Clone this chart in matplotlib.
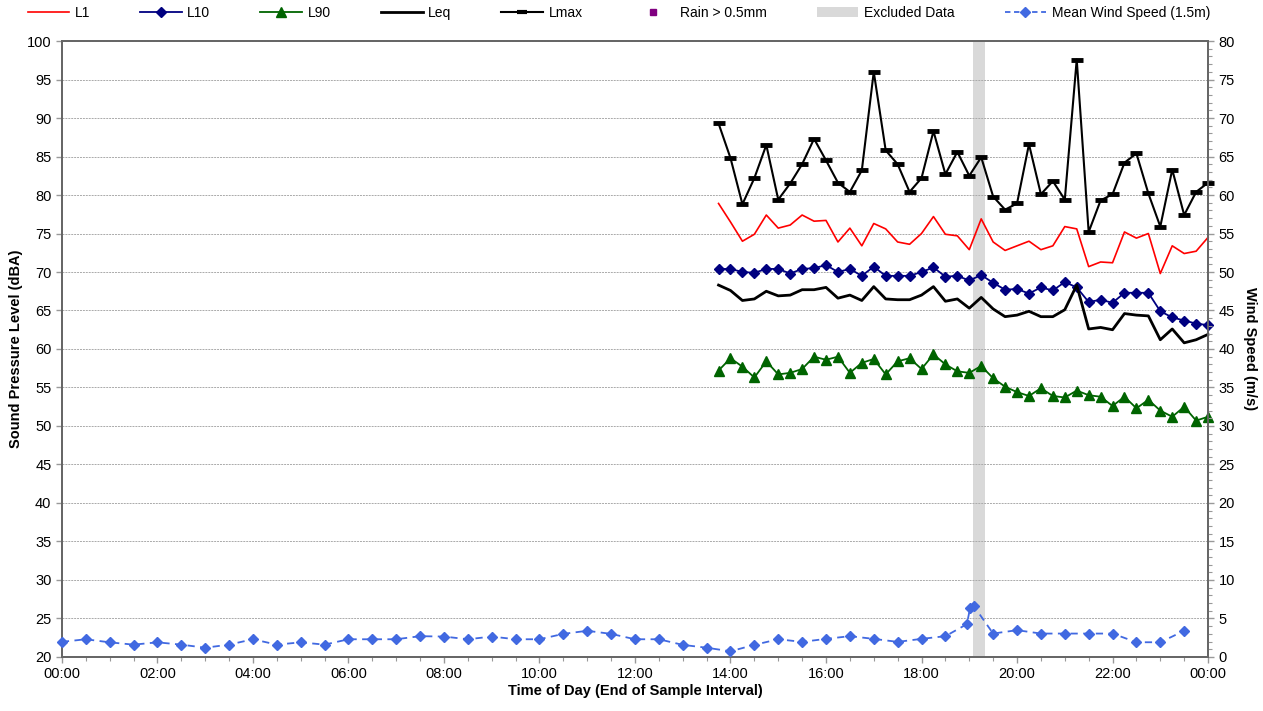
import matplotlib
matplotlib.use('Agg')
import matplotlib.pyplot as plt
from matplotlib.lines import Line2D
from matplotlib.patches import Patch

plt.rcParams['font.family'] = ['Liberation Sans', 'DejaVu Sans']

# Noise monitoring results, 15 minute intervals (time = end of interval)
sound_times = ['13:45', '14:00', '14:15', '14:30', '14:45', '15:00', '15:15', '15:30',
               '15:45', '16:00', '16:15', '16:30', '16:45', '17:00', '17:15', '17:30',
               '17:45', '18:00', '18:15', '18:30', '18:45', '19:00', '19:15', '19:30',
               '19:45', '20:00', '20:15', '20:30', '20:45', '21:00', '21:15', '21:30',
               '21:45', '22:00', '22:15', '22:30', '22:45', '23:00', '23:15', '23:30',
               '23:45', '24:00']
lmax = [89.3, 84.8, 78.8, 82.2, 86.5, 79.4, 81.5, 84.0, 87.3, 84.5, 81.6, 80.4,
        83.2, 96.0, 85.8, 84.0, 80.4, 82.2, 88.3, 82.7, 85.6, 82.5, 84.9, 79.8,
        78.1, 78.9, 86.6, 80.1, 81.8, 79.4, 97.6, 75.2, 79.3, 80.1, 84.2, 85.4,
        80.2, 75.9, 83.3, 77.4, 80.4, 81.6]
l1 = [78.9, 76.5, 74.0, 74.9, 77.4, 75.7, 76.1, 77.4, 76.6, 76.7, 73.9, 75.7,
      73.4, 76.3, 75.6, 73.9, 73.6, 75.0, 77.2, 74.9, 74.7, 72.9, 76.9, 73.9,
      72.8, 73.4, 74.0, 72.9, 73.4, 75.9, 75.6, 70.7, 71.3, 71.2, 75.2, 74.4,
      75.0, 69.8, 73.4, 72.4, 72.7, 74.5]
l10 = [70.4, 70.4, 70.0, 69.9, 70.4, 70.4, 69.8, 70.4, 70.5, 70.9, 70.0, 70.4,
       69.5, 70.7, 69.5, 69.5, 69.5, 70.0, 70.6, 69.4, 69.5, 68.9, 69.6, 68.6,
       67.7, 67.8, 67.2, 68.0, 67.6, 68.7, 68.0, 66.1, 66.4, 66.0, 67.3, 67.3,
       67.3, 64.9, 64.1, 63.7, 63.3, 63.1]
leq = [68.3, 67.6, 66.3, 66.5, 67.5, 66.9, 67.0, 67.7, 67.7, 68.0, 66.6, 67.0,
       66.3, 68.1, 66.5, 66.4, 66.4, 67.0, 68.1, 66.2, 66.5, 65.3, 66.7, 65.2,
       64.2, 64.4, 64.9, 64.2, 64.2, 65.1, 68.3, 62.6, 62.8, 62.5, 64.6, 64.4,
       64.3, 61.2, 62.6, 60.8, 61.2, 61.9]
l90 = [57.2, 58.8, 57.7, 56.3, 58.4, 56.7, 56.9, 57.4, 59.0, 58.6, 59.0, 56.9,
       58.2, 58.7, 56.7, 58.4, 58.8, 57.4, 59.3, 58.0, 57.1, 56.9, 57.8, 56.2,
       55.1, 54.4, 53.9, 54.9, 53.9, 53.7, 54.6, 54.0, 53.8, 52.6, 53.8, 52.3,
       53.4, 52.0, 51.2, 52.5, 50.7, 51.2]

# Mean wind speed at 1.5 m
wind_times = ['00:00', '00:30', '01:00', '01:30', '02:00', '02:30', '03:00', '03:30',
              '04:00', '04:30', '05:00', '05:30', '06:00', '06:30', '07:00', '07:30',
              '08:00', '08:30', '09:00', '09:30', '10:00', '10:30', '11:00', '11:30',
              '12:00', '12:30', '13:00', '13:30', '14:00', '14:30', '15:00', '15:30',
              '16:00', '16:30', '17:00', '17:30', '18:00', '18:30', '18:57', '19:01',
              '19:06', '19:30', '20:00', '20:30', '21:00', '21:30', '22:00', '22:30',
              '23:00', '23:30']
wind = [1.96, 2.3, 1.9, 1.6, 1.9, 1.6, 1.2, 1.6, 2.3, 1.6, 1.9, 1.6, 2.3, 2.3, 2.3, 2.7,
        2.65, 2.3, 2.65, 2.3, 2.3, 3.0, 3.4, 3.0, 2.3, 2.3, 1.57, 1.2, 0.74, 1.57,
        2.3, 1.96, 2.35, 2.7, 2.35, 1.96, 2.35, 2.7, 4.26, 6.35, 6.57, 3.04, 3.48,
        3.04, 3.04, 3.04, 3.04, 1.91, 1.91, 3.4]

excluded = ('19:05', '19:20')
x_tick_labels = ['00:00', '02:00', '04:00', '06:00', '08:00', '10:00', '12:00',
                 '14:00', '16:00', '18:00', '20:00', '22:00', '00:00']


def to_hours(t):
    h, m = t.split(':')
    return int(h) + int(m) / 60


def main():
    st = [to_hours(t) for t in sound_times]
    wt = [to_hours(t) for t in wind_times]

    fig = plt.figure(figsize=(12.63, 7.11), dpi=100)
    ax = fig.add_axes([0.049, 0.076, 0.9075, 0.8663])
    ax2 = ax.twinx()

    ax.axvspan(to_hours(excluded[0]), to_hours(excluded[1]), color='#d9d9d9', lw=0, zorder=0)

    ax.plot(st, l1, color='#ff0000', lw=1.2, zorder=3, clip_on=False)
    ax.plot(st, l10, color='#000080', lw=1.3, marker='D', ms=5.5, zorder=3, clip_on=False)
    ax.plot(st, l90, color='#006400', lw=1.3, marker='^', ms=7.5, zorder=3, clip_on=False)
    ax.plot(st, leq, color='black', lw=2, zorder=3, clip_on=False)
    ax.plot(st, lmax, color='black', lw=1.5, marker='_', ms=8, mew=3.5, zorder=3, clip_on=False)
    ax2.plot(wt, wind, color='#4169e1', lw=1.3, ls=(0, (4, 3)), marker='D', ms=5,
             zorder=3, clip_on=False)

    ax.set_xlim(0, 24)
    ax.set_ylim(20, 100)
    ax2.set_ylim(0, 80)
    ax.set_xticks(range(0, 25, 2))
    ax.set_xticks([h / 2 for h in range(49)], minor=True)
    ax.set_xticklabels(x_tick_labels)
    ax.set_yticks(range(20, 101, 5))
    ax2.set_yticks(range(0, 81, 5))
    ax2.set_yticks(range(0, 81), minor=True)

    ax.grid(axis='y', ls=(0, (2, 1)), color='#aaaaaa', lw=0.7)
    ax.set_axisbelow(True)

    for a in (ax, ax2):
        a.tick_params(labelsize=10.5, colors='#333333', direction='out', length=4, width=1)
        a.tick_params(which='minor', direction='out', length=3, width=0.8, colors='#999999')
        for s in a.spines.values():
            s.set_color('#666666')
            s.set_linewidth(1.3)
    ax.tick_params(axis='y', which='major', colors='#999999', labelcolor='#000000')
    ax2.tick_params(axis='y', which='major', colors='#999999', labelcolor='#000000')
    ax.tick_params(axis='x', which='major', colors='#999999', labelcolor='#000000')

    ax.set_xlabel('Time of Day (End of Sample Interval)', fontsize=10.5, fontweight='bold', labelpad=2)
    ax.set_ylabel('Sound Pressure Level (dBA)', fontsize=10.5, fontweight='bold', labelpad=3)
    ax2.set_ylabel('Wind Speed (m/s)', fontsize=10.5, fontweight='bold', rotation=-90, labelpad=16)

    handles = [
        Line2D([], [], color='#ff0000', lw=1.2),
        Line2D([], [], color='#000080', lw=1.3, marker='D', ms=5),
        Line2D([], [], color='#006400', lw=1.3, marker='^', ms=7),
        Line2D([], [], color='black', lw=2),
        Line2D([], [], color='black', lw=1.5, marker='_', ms=7, mew=3),
        Line2D([], [], color='#800080', ls='none', marker='s', ms=4),
        Patch(facecolor='#d9d9d9', edgecolor='none'),
        Line2D([], [], color='#4169e1', lw=1.3, ls=(0, (3, 2)), marker='D', ms=5),
    ]
    labels = ['L1', 'L10', 'L90', 'Leq', 'Lmax', 'Rain > 0.5mm', 'Excluded Data',
              'Mean Wind Speed (1.5m)']
    fig.legend(handles, labels, loc='center', bbox_to_anchor=(0.49, 0.982), ncol=8,
               frameon=False, fontsize=10, handlelength=3.0, handletextpad=0.4,
               columnspacing=3.6)

    fig.savefig('out.png', dpi=100)


if __name__ == '__main__':
    main()
